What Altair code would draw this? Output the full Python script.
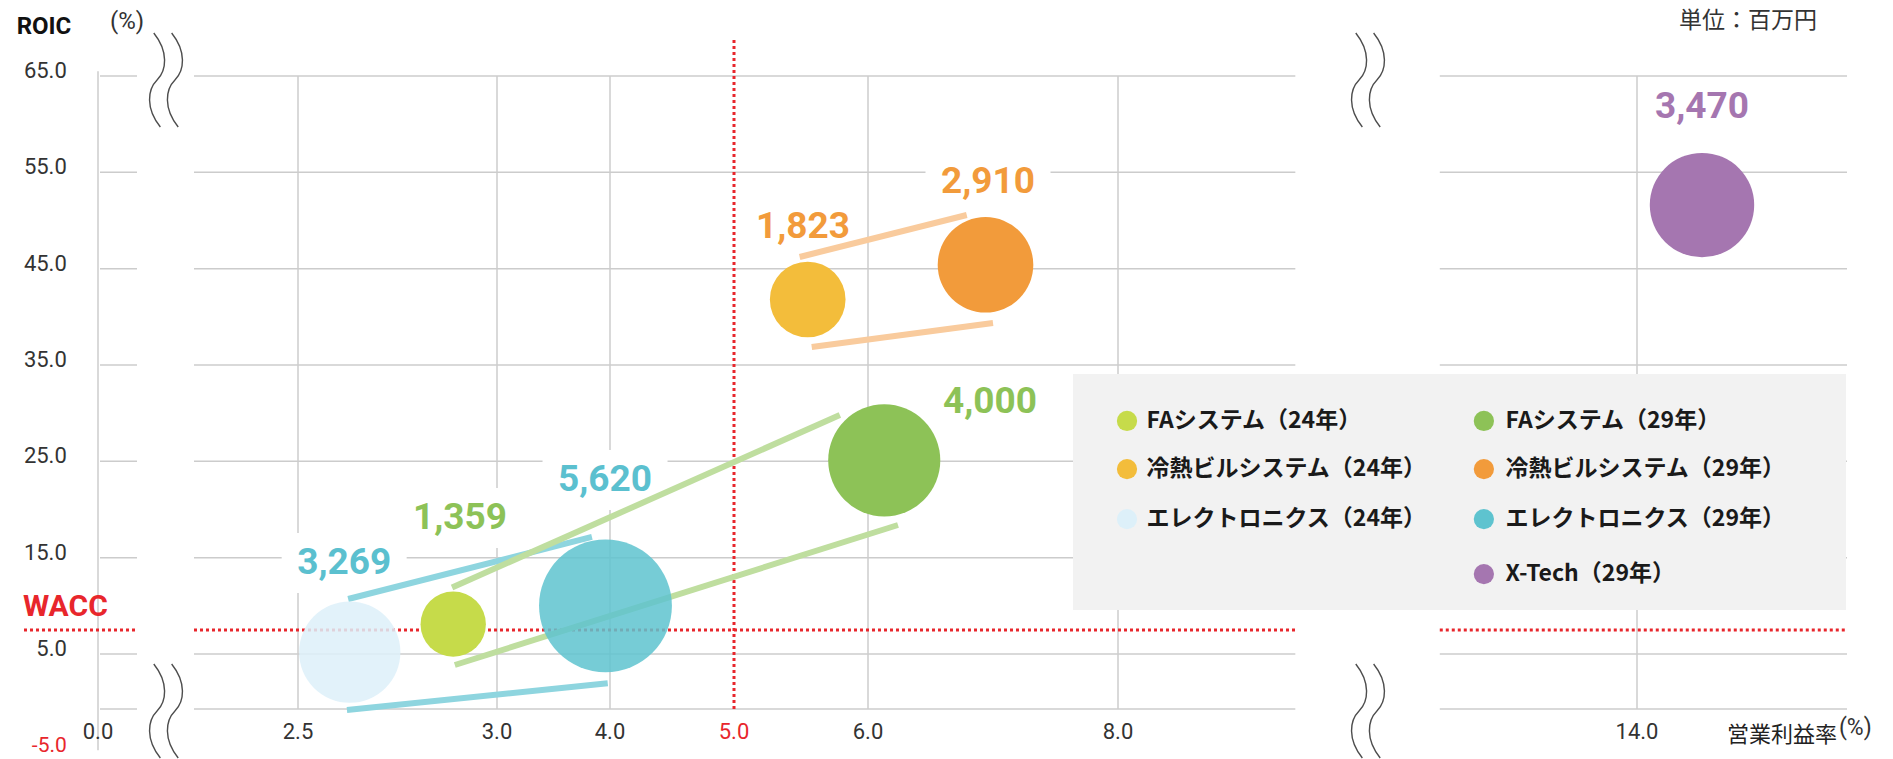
import math
import altair as alt
import pandas as pd

# ------------------------------------------------------------------
# Data
# ------------------------------------------------------------------
categories = ["FAシステム（24年）", "冷熱ビルシステム（24年）", "エレクトロニクス（24年）",
              "FAシステム（29年）", "冷熱ビルシステム（29年）", "エレクトロニクス（29年）",
              "X-Tech（29年）"]
op_margin = [2.89, 5.55, 2.63, 6.13, 6.94, 3.96, 15.3]      # 営業利益率 (%)
roic = [8.1, 41.8, 5.2, 25.1, 45.4, 10.0, 51.6]            # ROIC (%)
sales = [1359, 1823, 3269, 4000, 2910, 5620, 3470]         # 単位：百万円
sales_labels = ["1,359", "1,823", "3,269", "4,000", "2,910", "5,620", "3,470"]
wacc = 7.5

x_ticks = [0, 2.5, 3, 4, 5, 6, 8, 14]
x_tick_labels = ["0.0", "2.5", "3.0", "4.0", "5.0", "6.0", "8.0", "14.0"]
y_ticks = [65, 55, 45, 35, 25, 15, 5]
y_tick_labels = ["65.0", "55.0", "45.0", "35.0", "25.0", "15.0", "5.0"]
y_bottom = -5
y_bottom_label = "-5.0"
v_grid = [2.5, 3, 4, 6, 8, 14]

# connectors between the 24年 and 29年 bubbles of each segment (chart units)
link_segment = ["エレクトロニクス", "エレクトロニクス", "FAシステム", "FAシステム",
                "冷熱ビルシステム", "冷熱ビルシステム"]
link_x1 = [2.626, 2.623, 2.887, 2.894, 5.49, 5.58]
link_y1 = [10.71, -5.18, 11.9, 3.0, 46.21, 36.87]
link_x2 = [3.84, 3.98, 5.79, 6.24, 6.79, 7.0]
link_y2 = [17.15, -0.33, 29.81, 18.39, 50.57, 39.36]

# ------------------------------------------------------------------
# Layout / style
# ------------------------------------------------------------------
W, H = 1893, 759
X_DOMAIN = [0, 2.5, 3, 4, 5, 6, 8, 14, 16]
X_RANGE = [98, 298, 497, 610, 734, 868, 1118, 1637, 1737]
Y_DOMAIN = [-5, 5, 65]
Y_RANGE = [709, 654, 76]
XS = alt.Scale(domain=X_DOMAIN, range=X_RANGE, nice=False, zero=False)
YS = alt.Scale(domain=Y_DOMAIN, range=Y_RANGE, nice=False, zero=False)

bubble_colors = ["#C6DB4A", "#F3BD3B", "#DDF0F9", "#8DC257", "#F29B3B", "#5EC3CF", "#A576B0"]
bubble_opacity = [1, 1, 0.85, 1, 1, 0.85, 1]
label_colors = ["#8DC257", "#F29B3B", "#5BC0CF", "#8DC257", "#F29B3B", "#5BC0CF", "#A576B0"]
label_x = [2.907, 5.515, 2.616, 6.976, 6.96, 3.956, 15.3]
label_y = [19.12, 49.33, 14.45, 31.16, 54.0, 23.06, 61.78]
link_colors = {"エレクトロニクス": "#8ED5DF", "FAシステム": "#BFDE9F", "冷熱ビルシステム": "#F9CB9D"}

GRID_SEGMENTS = [(0.025, 0.4875), (1.2, 10.05), (11.72, 18.2)]
WACC_SEGMENTS = [(-0.925, 0.4875), (1.2, 10.05), (11.72, 18.2)]
GRID = "#CCCCCC"
RED = "#E8262C"
LATIN = "Roboto, 'Liberation Sans', sans-serif"
CJK = "'Noto Sans CJK JP', 'Noto Sans', sans-serif"

LEG_BOX = (7.64, 18.18, 9.57, 34.07)
LEG_COL_DOT = [8.104, 12.23]
LEG_COL_TXT = [8.33, 12.48]
LEG_ROWS = [29.19, 24.2, 19.01, 13.3]
legend_slots = [(0, 0), (0, 1), (0, 2), (1, 0), (1, 1), (1, 2), (1, 3)]

BREAK_PATH = ("M -0.26 -1 C 0.06 -0.6 0.01 -0.2 -0.19 0 C -0.39 0.2 -0.44 0.6 -0.12 1 "
              "M 0.12 -1 C 0.44 -0.6 0.39 -0.2 0.19 0 C -0.01 0.2 -0.06 0.6 0.26 1")
BOX_PATH = "M -1 -0.48 L 1 -0.48 L 1 0.48 L -1 0.48 Z"
breaks_x = [0.85, 0.85, 10.89, 10.89]
breaks_y = [64.59, -5.36, 64.59, -5.36]


def X(f):
    return alt.X(f, type="quantitative", scale=XS, axis=None)


def Y(f):
    return alt.Y(f, type="quantitative", scale=YS, axis=None)


# ------------------------------------------------------------------
# Tables
# ------------------------------------------------------------------
bubbles = pd.DataFrame({"cat": categories, "x": op_margin, "y": roic, "v": sales,
                        "op": bubble_opacity, "lab": sales_labels,
                        "lx": label_x, "ly": label_y, "lc": label_colors})

hgrid = pd.DataFrame([{"y": y, "x1": a, "x2": b}
                      for y in y_ticks + [y_bottom] for a, b in GRID_SEGMENTS])
vgrid = pd.DataFrame({"x": v_grid, "y1": [y_bottom] * len(v_grid), "y2": [65] * len(v_grid)})
axis_line = pd.DataFrame({"x": [0], "y1": [-12.5], "y2": [65.5]})
wacc_df = pd.DataFrame([{"y": wacc, "x1": a, "x2": b} for a, b in WACC_SEGMENTS])
five_df = pd.DataFrame({"x": [5], "y1": [y_bottom], "y2": [69.05]})
links = pd.DataFrame({"seg": link_segment, "x1": link_x1, "y1": link_y1,
                      "x2": link_x2, "y2": link_y2,
                      "c": [link_colors[s] for s in link_segment]})
xlab = pd.DataFrame({"x": x_ticks, "t": x_tick_labels, "y": [y_bottom] * len(x_ticks),
                     "c": [RED if v == 5 else "#333333" for v in x_ticks]})
ylab = pd.DataFrame({"y": y_ticks, "t": y_tick_labels, "x": [-0.39] * len(y_ticks)})
ylab_bottom = pd.DataFrame({"y": [y_bottom], "t": [y_bottom_label], "x": [-0.39]})
legend_df = pd.DataFrame({"cat": categories,
                          "dx": [LEG_COL_DOT[c] for c, r in legend_slots],
                          "tx": [LEG_COL_TXT[c] for c, r in legend_slots],
                          "y": [LEG_ROWS[r] for c, r in legend_slots]})
legend_box = pd.DataFrame({"x1": [LEG_BOX[0]], "x2": [LEG_BOX[1]],
                           "y1": [LEG_BOX[2]], "y2": [LEG_BOX[3]]})
breaks = pd.DataFrame({"x": breaks_x, "y": breaks_y})

color_enc = alt.Color("cat:N", scale=alt.Scale(domain=categories, range=bubble_colors), legend=None)

# ------------------------------------------------------------------
# Layers
# ------------------------------------------------------------------
l_hgrid = alt.Chart(hgrid).mark_rule(color=GRID, strokeWidth=1.5).encode(
    x=X("x1"), x2="x2", y=Y("y"))
l_vgrid = alt.Chart(vgrid).mark_rule(color=GRID, strokeWidth=1.5).encode(
    x=X("x"), y=Y("y1"), y2="y2")
l_axis = alt.Chart(axis_line).mark_rule(color=GRID, strokeWidth=1.5).encode(
    x=X("x"), y=Y("y1"), y2="y2")
l_legbox = alt.Chart(legend_box).mark_rect(color="#F2F2F2").encode(
    x=X("x1"), x2="x2", y=Y("y1"), y2="y2")
l_labbox = alt.Chart(bubbles).mark_point(shape=BOX_PATH, filled=True, fill="white",
                                          strokeWidth=0, opacity=1, size=15625).encode(
    x=X("lx"), y=Y("ly"))
l_wacc = alt.Chart(wacc_df).mark_rule(color=RED, strokeWidth=3, strokeDash=[3, 3]).encode(
    x=X("x1"), x2="x2", y=Y("y"))
l_five = alt.Chart(five_df).mark_rule(color=RED, strokeWidth=3, strokeDash=[3, 3]).encode(
    x=X("x"), y=Y("y1"), y2="y2")
l_links = alt.Chart(links).mark_rule(strokeWidth=6, strokeCap="butt").encode(
    x=X("x1"), x2="x2", y=Y("y1"), y2="y2", color=alt.Color("c:N", scale=None))
l_bubbles = alt.Chart(bubbles).mark_circle(strokeWidth=0).encode(
    x=X("x"), y=Y("y"), color=color_enc,
    opacity=alt.Opacity("op:Q", scale=None),
    size=alt.Size("v:Q", scale=alt.Scale(type="linear", domain=[0, 6000],
                                         range=[0, 6000 * math.pi]), legend=None))
l_labels = alt.Chart(bubbles).mark_text(font=LATIN, fontSize=37, fontWeight="bold").encode(
    x=X("lx"), y=Y("ly"), text="lab:N", color=alt.Color("lc:N", scale=None))
l_legdot = alt.Chart(legend_df).mark_circle(size=410, opacity=1).encode(
    x=X("dx"), y=Y("y"), color=color_enc)
l_legtxt = alt.Chart(legend_df).mark_text(font=CJK, fontSize=23, fontWeight="bold",
                                          align="left", color="#1A1A1A").encode(
    x=X("tx"), y=Y("y"), text="cat:N")
l_xlab = alt.Chart(xlab).mark_text(font=LATIN, fontSize=22, dy=23).encode(
    x=X("x"), y=Y("y"), text="t:N", color=alt.Color("c:N", scale=None))
l_ylab = alt.Chart(ylab).mark_text(font=LATIN, fontSize=22, align="right", dy=-5,
                                   color="#333333").encode(
    x=X("x"), y=Y("y"), text="t:N")
l_ylab_b = alt.Chart(ylab_bottom).mark_text(font=LATIN, fontSize=21, align="right", dy=37,
                                            color=RED).encode(
    x=X("x"), y=Y("y"), text="t:N")
l_breaks = alt.Chart(breaks).mark_point(shape=BREAK_PATH, filled=False, stroke="#4D4D4D",
                                        strokeWidth=1.4, opacity=1, size=8836).encode(
    x=X("x"), y=Y("y"))


def txt(t, x, y, **kw):
    df = pd.DataFrame({"x": [x], "y": [y], "t": [t]})
    return alt.Chart(df).mark_text(**kw).encode(x=X("x"), y=Y("y"), text="t:N")


l_roic = txt("ROIC", -0.675, 70.09, font=LATIN, fontSize=24, fontWeight="bold", color="#111111")
l_pct1 = txt("(%)", 0.3625, 70.6, font=LATIN, fontSize=24, color="#333333")
l_unit = txt("単位：百万円", 16.22, 70.75, font=CJK, fontSize=23, color="#333333")
l_xtitle = txt("営業利益率", 18.0, -9.73, font=CJK, fontSize=22, color="#222222", align="right")
l_pct2 = txt("(%)", 18.04, -8.5, font=LATIN, fontSize=23, color="#333333", align="left")
l_waccl = txt("WACC", -0.9375, 9.88, font=LATIN, fontSize=30, fontWeight="bold", color=RED,
              align="left")

chart = alt.layer(
    l_hgrid, l_vgrid, l_axis, l_legbox, l_labbox, l_wacc, l_five, l_links, l_bubbles,
    l_labels, l_legdot, l_legtxt, l_xlab, l_ylab, l_ylab_b, l_breaks,
    l_roic, l_pct1, l_unit, l_xtitle, l_pct2, l_waccl,
).properties(
    width=W, height=H, padding=0, autosize=alt.AutoSizeParams(type="none"),
    background="white",
).configure_view(stroke=None)

chart.save("out.html", embed_options={"renderer": "svg", "actions": False})
